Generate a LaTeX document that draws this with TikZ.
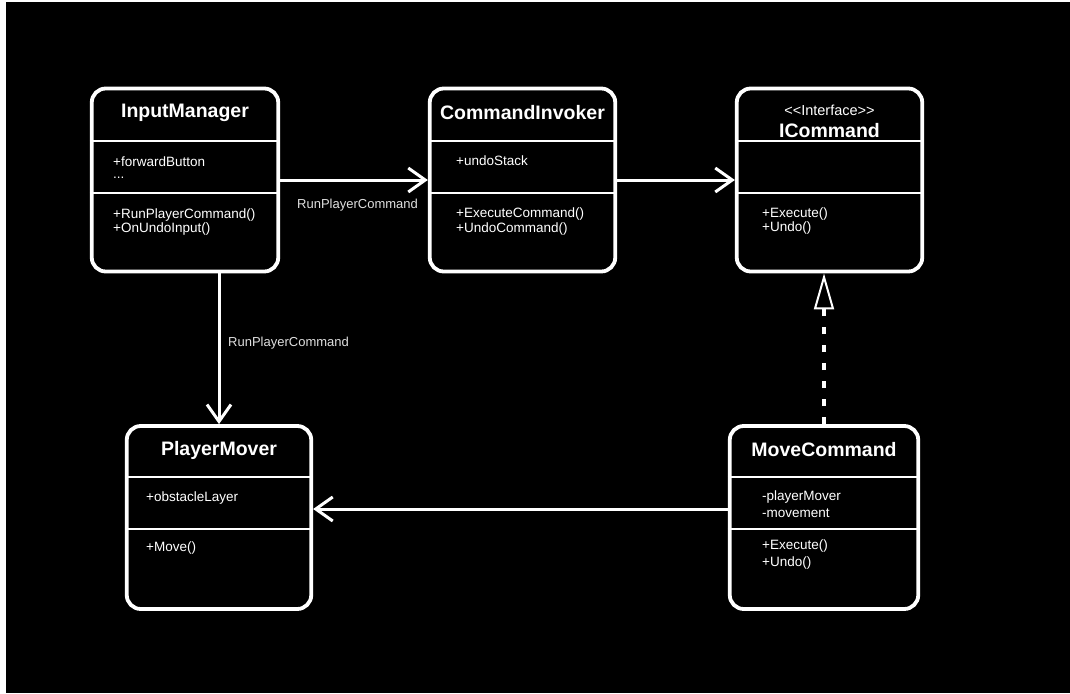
\documentclass[tikz,border=0pt]{standalone}
\usepackage{fontspec}
\setmainfont{Liberation Sans}
\usetikzlibrary{arrows.meta, positioning, calc}

\begin{document}
\begin{tikzpicture}[x=1pt, y=-1pt,
      cls/.style={draw=white, line width=3.8pt, rounded corners=14pt, fill=black,
                  minimum height=183pt},
      sep/.style={draw=white, line width=2.5pt},
      title/.style={text=white, inner sep=0pt, font=\fontsize{19.5}{22}\selectfont\bfseries},
      stereo/.style={text=white, inner sep=0pt, font=\fontsize{14.5}{16}\selectfont},
      member/.style={text=white, inner sep=0pt, anchor=west, align=left,
                     font=\fontsize{13.5}{14.5}\selectfont},
      wide/.style={member, font=\fontsize{13.5}{16.5}\selectfont},
      lbl/.style={text=white!88!black, inner sep=0pt, anchor=west, font=\fontsize{13}{14}\selectfont},
      arr/.style={-{Straight Barb[length=17pt, width=24pt]}, white, line width=3pt},
      real/.style={-{Triangle[open, length=36pt, width=20pt, line width=2pt]}, white,
                   line width=4.5pt, dash pattern=on 7pt off 11pt}]
    \fill[white] (0,0) rectangle (1070,693);
    \fill[black] (6,2) rectangle (1070,693);
    \node[cls, minimum width=186.5pt] (im) at (185,180) {};
    \node[cls, minimum width=185.5pt] (ci) at (522.5,180) {};
    \node[cls, minimum width=185.5pt] (ic) at (829.5,180) {};
    \node[cls, minimum width=184.5pt] (pm) at (219,517.5) {};
    \node[cls, minimum width=188.5pt] (mc) at (824,517.5) {};
    \draw[sep] (im.west |- 0,141) -- (im.east |- 0,141);
    \draw[sep] (im.west |- 0,193) -- (im.east |- 0,193);
    \draw[sep] (ci.west |- 0,141) -- (ci.east |- 0,141);
    \draw[sep] (ci.west |- 0,193) -- (ci.east |- 0,193);
    \draw[sep] (ic.west |- 0,141) -- (ic.east |- 0,141);
    \draw[sep] (ic.west |- 0,193) -- (ic.east |- 0,193);
    \draw[sep] (pm.west |- 0,477) -- (pm.east |- 0,477);
    \draw[sep] (pm.west |- 0,529) -- (pm.east |- 0,529);
    \draw[sep] (mc.west |- 0,477) -- (mc.east |- 0,477);
    \draw[sep] (mc.west |- 0,529) -- (mc.east |- 0,529);
    \node[title] (imt) at (185,113) {InputManager};
    \node[member] (ima) at (113,162) {+forwardButton};
    \node[member] (imd) at (113,178) {...};
    \node[member] (imm) at (113,222) {+RunPlayerCommand()\\+OnUndoInput()};
    \node[title] (cit) at (522.5,113) {CommandInvoker};
    \node[member] (cia) at (456,161) {+undoStack};
    \node[member] (cim) at (456,221.5) {+ExecuteCommand()\\+UndoCommand()};
    \node[stereo] (ics) at (829.5,110) {<{}<Interface>{}>};
    \node[title] (ict) at (829.5,131) {ICommand};
    \node[member] (icm) at (762,221) {+Execute()\\+Undo()};
    \node[title] (pmt) at (219,450) {PlayerMover};
    \node[member] (pma) at (146,498) {+obstacleLayer};
    \node[member] (pmm) at (146,548) {+Move()};
    \node[title] (mct) at (824,450) {MoveCommand};
    \node[wide] (mca) at (762,504) {-playerMover\\-movement};
    \node[wide] (mcm) at (762,554.5) {+Execute()\\+Undo()};
    \draw[arr](im)--(ci);\draw[arr](ci)--(ic);
    \draw[arr](pm.north |- im.south)--(pm.north);
    \draw[arr]([yshift=8.5pt]mc.west)--([yshift=8.5pt]pm.east);
    \draw[real](mc.north)--(mc.north |- ic.south);
    \node[lbl] (rpc1) at (297,205) {RunPlayerCommand};
    \node[lbl] (rpc2) at (228,343) {RunPlayerCommand};
  \end{tikzpicture}
\end{document}
